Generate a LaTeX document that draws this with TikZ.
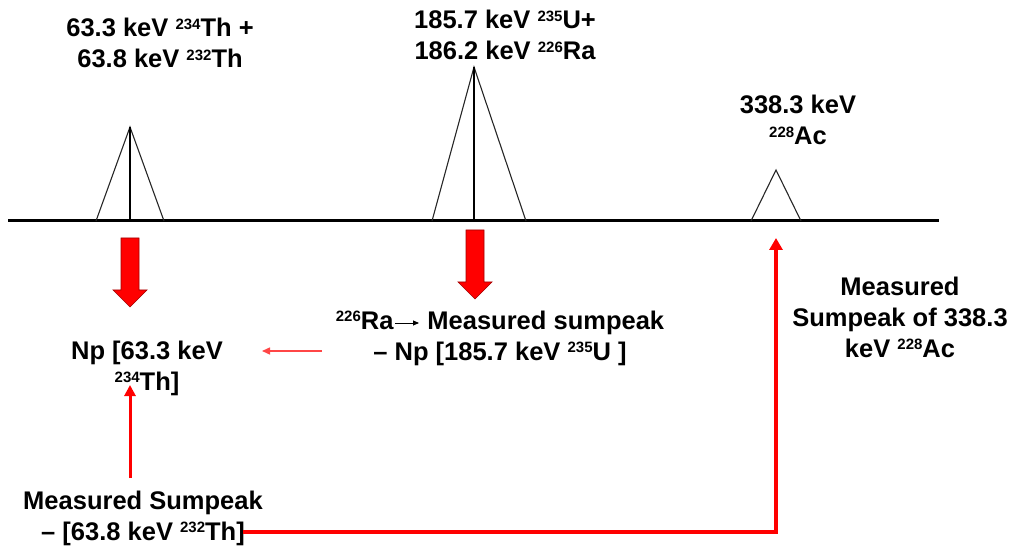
\documentclass[tikz,border=0pt]{standalone}
\usepackage{fontspec}
\setmainfont{Liberation Sans}
\usetikzlibrary{arrows.meta}
\newcommand\iso[1]{\raisebox{7.5pt}{\fontsize{15}{15}\selectfont #1}}
\definecolor{bigred}{RGB}{255,0,0}
\definecolor{bigedge}{RGB}{160,0,0}
\definecolor{thinred}{RGB}{255,70,70}
\begin{document}
\begin{tikzpicture}[x=1pt,y=-1pt,
  font=\bfseries\fontsize{25.5}{31}\selectfont,
  lbl/.style={align=center,anchor=base,inner sep=0pt},
  axisline/.style={line width=3pt,black},
  peakline/.style={line width=1.1pt,black!85,line join=miter},
  centerline/.style={line width=1.5pt,black},
  bigarr/.style={fill=bigred,draw=bigedge,line width=0.7pt},
  thinarr/.style={thinred,line width=1.4pt,-{Triangle[width=7pt,length=8pt]}},
  medarr/.style={red,line width=3pt,-{Triangle[width=11pt,length=11pt]}},
  longarr/.style={red,line width=4pt,-{Triangle[width=13pt,length=12pt]}},
  tinyarr/.style={black,line width=0.9pt,-{Triangle[width=5pt,length=6pt]}}]
\useasboundingbox (0,0) rectangle (1013,548);

% axis
\coordinate (axL) at (8,221);
\coordinate (axR) at (939,221);
\draw[axisline] (axL) -- (axR);

% peaks
\draw[peakline] (96,221) -- (130,127) -- (164,221);
\draw[centerline] (130,127) -- (130,221);
\draw[peakline] (432,221) -- (474,67) -- (526,221);
\draw[centerline] (474,67) -- (474,221);
\draw[peakline] (751,221) -- (776,170) -- (801,221);

% labels of peaks (anchor base = baseline of last line)
\node[lbl] (t1) at (160,68) {63.3 keV \iso{234}Th +\\63.8 keV \iso{232}Th};
\node[lbl] (t2) at (505,60) {185.7 keV \iso{235}U+\\186.2 keV \iso{226}Ra};
\node[lbl] (t3) at (798,145) {338.3 keV\\\iso{228}Ac};

% big red arrows
\filldraw[bigarr] (121,238) -- (139,238) -- (139,290) -- (147,290) -- (130,307) -- (113,290) -- (121,290) -- cycle;
\filldraw[bigarr] (466,230) -- (484,230) -- (484,282) -- (492,282) -- (475,299) -- (458,282) -- (466,282) -- cycle;

% lower texts
\node[lbl] (np) at (147,390) {Np [63.3 keV\\\iso{234}Th]};
\node[lbl] (ra) at (500,360) {\iso{226}Ra\hspace{34pt}Measured sumpeak\\– Np [185.7 keV \iso{235}U ]};
\node[lbl] (ms) at (143,540) {Measured Sumpeak\\– [63.8 keV \iso{232}Th]};
\node[lbl] (ac) at (900,357) {Measured\\Sumpeak of 338.3\\keV \iso{228}Ac};

% connectors
\coordinate (raA) at (395,323);
\coordinate (raB) at (419,323);
\draw[tinyarr] (raA) -- (raB);

\coordinate (leftS) at (322,351);
\coordinate (leftE) at (262,351);
\draw[thinarr] (leftS) -- (leftE);

\coordinate (upS) at (130,478);
\coordinate (upE) at (130,385);
\draw[medarr] (upS) -- (upE);

\coordinate (lS) at (243,532);
\coordinate (lC) at (776,532);
\coordinate (lE) at (776,238);
\draw[longarr,line join=miter] (lS) -- (lC) -- (lE);
\end{tikzpicture}
\end{document}
